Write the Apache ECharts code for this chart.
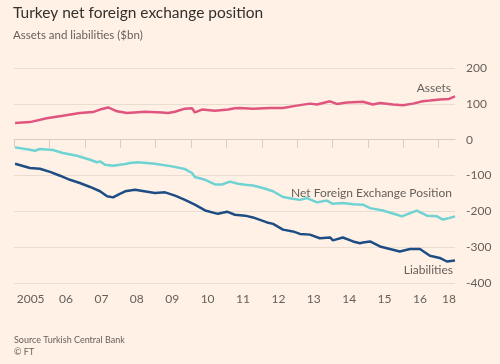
<!DOCTYPE html>
<html>
<head>
<meta charset="utf-8">
<script src="https://cdn.jsdelivr.net/npm/echarts@6/dist/echarts.min.js"></script>
<style>
html,body{margin:0;padding:0;background:#fff1e5;}
#chart{width:500px;height:364px;}
</style>
</head>
<body>
<div id="chart"></div>
<script>
// Tick years and labels on the x axis
const tickYears = [2005,2006,2007,2008,2009,2010,2011,2012,2013,2014,2015,2016,2017];
const labelPos = [2005.47,2006.47,2007.47,2008.47,2009.47,2010.47,2011.47,2012.47,2013.47,2014.47,2015.47,2016.47,2017.29];
const tickLabels = ['2005','06','07','08','09','10','11','12','13','14','15','16','18'];
const yTicks = [-400,-300,-200,-100,0,100,200];

// Assets ($bn)
const assetsX = [2005.03,2005.45,2005.92,2006.38,2006.86,2007.23,2007.43,2007.66,2007.91,2008.19,2008.70,2009.18,2009.35,2009.55,2009.83,2010.03,2010.11,2010.31,2010.68,2011.05,2011.24,2011.38,2011.75,2012.23,2012.60,2012.99,2013.36,2013.56,2013.93,2014.12,2014.41,2014.86,2015.14,2015.34,2015.71,2015.99,2016.27,2016.55,2016.75,2017.03,2017.29,2017.46];
const assetsY = [46.6,49,60,67,74.6,77,84,90,79,74.6,78,76,74.6,78,86.6,87.5,76,84,81,84,87.5,88.5,86,88.5,88.5,95,100.6,98,107,99.7,104,106,98,102.5,98,96,100.6,107,109,112,113.6,121];

// Net foreign exchange position ($bn)
const netX = [2005.03,2005.45,2005.59,2005.73,2006.10,2006.38,2006.78,2007.15,2007.34,2007.43,2007.57,2007.80,2007.99,2008.14,2008.28,2008.50,2008.98,2009.46,2009.83,2010.03,2010.11,2010.40,2010.68,2010.88,2011.10,2011.33,2011.53,2011.75,2012.03,2012.32,2012.60,2012.88,2013.08,2013.28,2013.56,2013.84,2014.01,2014.29,2014.58,2014.86,2015.06,2015.42,2015.82,2015.96,2016.19,2016.38,2016.67,2016.95,2017.12,2017.29,2017.46];
const netY = [-21.5,-28,-31,-26,-29,-37,-45,-56,-63,-60.5,-70,-72.6,-70,-68,-65,-63,-67,-74.5,-82,-93,-104,-112,-125,-125,-117,-123,-126,-128,-135,-144,-160,-165,-168,-163,-175,-170,-179,-177,-180,-181.5,-191,-197.5,-209.5,-214,-205,-198,-212,-214,-223,-219,-214];

// Liabilities ($bn)
const liabX = [2005.03,2005.45,2005.73,2006.02,2006.30,2006.58,2006.86,2007.15,2007.43,2007.63,2007.80,2007.99,2008.14,2008.28,2008.42,2008.98,2009.27,2009.55,2009.83,2010.11,2010.40,2010.76,2011.02,2011.24,2011.53,2011.75,2012.15,2012.32,2012.60,2012.88,2013.08,2013.36,2013.64,2013.93,2014.01,2014.29,2014.58,2014.77,2014.86,2015.06,2015.34,2015.62,2015.90,2016.19,2016.47,2016.75,2017.03,2017.23,2017.46];
const liabY = [-67,-79,-81,-90,-100.6,-112,-121,-132,-144,-158,-161,-151,-144,-141.6,-140,-149,-147,-156,-168,-181.5,-197.5,-207,-201,-209.5,-212,-217,-231,-235,-251,-256,-263,-265,-275,-273,-281,-273,-284,-289,-287,-284,-298,-305,-312,-305,-305,-324,-330,-340,-337];

const zip = (xs, ys) => xs.map((x, i) => [x, ys[i]]);

const chart = echarts.init(document.getElementById('chart'), null, {renderer: 'canvas'});
const FONT = 'Lato';
const grey = '#66605c';

chart.setOption({
  backgroundColor: '#fff1e5',
  animation: false,
  title: [
    {
      text: 'Turkey net foreign exchange position',
      subtext: 'Assets and liabilities ($bn)',
      left: 8, top: 0,
      itemGap: 8,
      textStyle: {fontFamily: FONT, fontSize: 15.5, fontWeight: 'normal', color: '#33302e'},
      subtextStyle: {fontFamily: FONT, fontSize: 11.5, color: grey}
    },
    {
      text: 'Source Turkish Central Bank\n© FT',
      left: 9, top: 329,
      textStyle: {fontFamily: FONT, fontSize: 9, fontWeight: 'normal', color: grey, lineHeight: 12}
    }
  ],
  grid: {left: 14, right: 45, top: 68, bottom: 81},
  xAxis: {
    type: 'value',
    min: 2005, max: 2017.46,
    splitLine: {show: false},
    axisLine: {show: true, lineStyle: {color: '#d9cdc2', width: 1}},
    axisTick: {show: true, customValues: tickYears, length: 8, lineStyle: {color: '#d9cdc2'}},
    axisLabel: {
      customValues: labelPos,
      formatter: v => {
        const i = labelPos.findIndex(p => Math.abs(p - v) < 0.01);
        return i >= 0 ? tickLabels[i] : '';
      },
      fontFamily: FONT, fontSize: 12, color: grey, margin: 10
    }
  },
  yAxis: {
    type: 'value',
    position: 'right',
    min: -400, max: 200, interval: 100,
    axisLine: {show: false},
    axisTick: {show: false},
    splitLine: {show: true, lineStyle: {color: '#e9ddd2', width: 1}},
    axisLabel: {fontFamily: FONT, fontSize: 12, color: grey, margin: 11, align: 'left'}
  },
  series: [
    {
      name: 'Assets', type: 'line', data: zip(assetsX, assetsY),
      showSymbol: false, lineStyle: {color: '#e0557f', width: 2.5}, itemStyle: {color: '#e0557f'},
      endLabel: {show: true, formatter: 'Assets', fontFamily: FONT, fontSize: 12, color: grey,
        align: 'right', verticalAlign: 'bottom', offset: [-12, -2]}
    },
    {
      name: 'Net Foreign Exchange Position', type: 'line', data: zip(netX, netY),
      showSymbol: false, lineStyle: {color: '#6fd3d4', width: 2.5}, itemStyle: {color: '#6fd3d4'},
      endLabel: {show: true, formatter: 'Net Foreign Exchange Position', fontFamily: FONT, fontSize: 12, color: grey,
        align: 'right', verticalAlign: 'bottom', offset: [-11, -17]}
    },
    {
      name: 'Liabilities', type: 'line', data: zip(liabX, liabY),
      showSymbol: false, lineStyle: {color: '#1e4d85', width: 2.5}, itemStyle: {color: '#1e4d85'},
      endLabel: {show: true, formatter: 'Liabilities', fontFamily: FONT, fontSize: 12, color: grey,
        align: 'right', verticalAlign: 'top', offset: [-10, 4]}
    }
  ]
});
</script>
</body>
</html>
